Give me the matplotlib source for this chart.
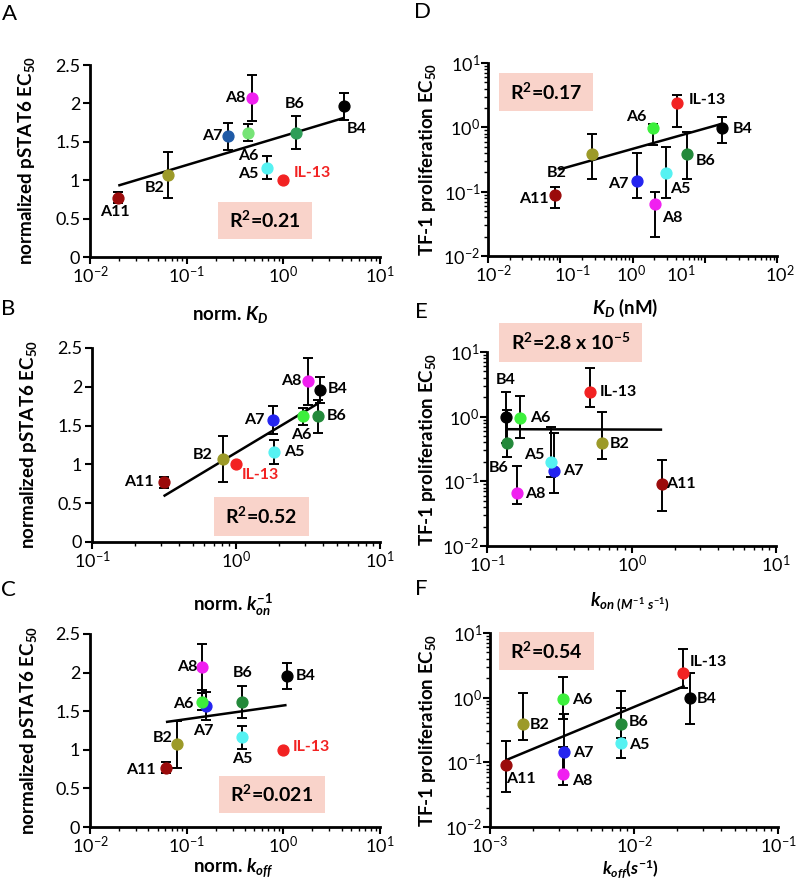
import math
import matplotlib
matplotlib.use('Agg')
import matplotlib.pyplot as plt
from matplotlib.patches import Rectangle
from matplotlib.ticker import NullFormatter

plt.rcParams['font.family'] = ['Lato', 'DejaVu Sans']
plt.rcParams['mathtext.fontset'] = 'custom'
plt.rcParams['mathtext.rm'] = 'Lato:bold'
plt.rcParams['mathtext.it'] = 'Lato:bold:italic'
plt.rcParams['mathtext.bf'] = 'Lato:bold'

# ---- data (order: A11, B2, A7, A6, A8, A5, IL-13, B6, B4) ----
names = ['A11', 'B2', 'A7', 'A6', 'A8', 'A5', 'IL-13', 'B6', 'B4']
colors = ['#9b0b0b', '#9c9a28', '#2424f0', '#3cf03c', '#f020f0', '#55f2f2', '#f22222', '#23893a', '#000000']
colors_A = ['#9b0b0b', '#9c9a28', '#1f5aa6', '#76e476', '#f020f0', '#55f2f2', '#f22222', '#2e9e58', '#000000']

# normalized pSTAT6 EC50 (+/- error)
pstat6 = [0.77, 1.07, 1.57, 1.62, 2.07, 1.16, 1.00, 1.62, 1.96]
pstat6_err = [0.07, 0.30, 0.18, 0.11, 0.30, 0.15, 0.0, 0.21, 0.17]

norm_kd = [0.0196, 0.0646, 0.27, 0.434, 0.478, 0.673, 1.0, 1.35, 4.28]
norm_kon_inv = [0.314, 0.81, 1.80, 2.94, 3.18, 1.85, 1.0, 3.73, 3.84]
norm_koff = [0.0607, 0.0788, 0.157, 0.145, 0.143, 0.377, 1.0, 0.377, 1.08]

# TF-1 proliferation EC50
tf1 = [0.090, 0.385, 0.146, 0.97, 0.065, 0.197, 2.38, 0.39, 0.98]
tf1_hi_D = [0.12, 0.78, 0.40, 1.12, 0.10, 0.50, 3.2, 0.86, 1.47]
tf1_lo_D = [0.055, 0.16, 0.081, 0.53, 0.02, 0.079, 1.0, 0.16, 0.57]
tf1_hi = [0.21, 1.16, 0.56, 2.06, 0.17, 0.69, 5.6, 1.29, 2.45]
tf1_lo = [0.035, 0.225, 0.067, 0.47, 0.045, 0.118, 1.4, 0.235, 0.39]

kd_nm = [0.084, 0.277, 1.17, 1.9, 2.05, 2.88, 4.19, 5.77, 17.6]
kon = [1.63, 0.627, 0.29, 0.17, 0.162, 0.279, 0.52, 0.138, 0.1353]
koff = [0.00129, 0.0017, 0.00326, 0.00323, 0.00323, 0.0081, 0.0219, 0.0081, 0.0244]

# regression lines (end points)
fit_A_x, fit_A_y = [0.0196, 4.2], [0.93, 1.81]
fit_B_x, fit_B_y = [0.314, 3.75], [0.59, 1.79]
fit_C_x, fit_C_y = [0.061, 1.08], [1.36, 1.58]
fit_D_x, fit_D_y = [0.095, 17.0], [0.22, 1.13]
fit_E_x, fit_E_y = [0.135, 1.63], [0.64, 0.63]
fit_F_x, fit_F_y = [0.00129, 0.0225], [0.108, 1.52]

r2_text = {
    'A': r'R$^{\mathdefault{2}}$=0.21',
    'B': r'R$^{\mathdefault{2}}$=0.52',
    'C': r'R$^{\mathdefault{2}}$=0.021',
    'D': r'R$^{\mathdefault{2}}$=0.17',
    'E': r'R$^{\mathdefault{2}}$=2.8 x 10$^{\mathdefault{-5}}$',
    'F': r'R$^{\mathdefault{2}}$=0.54',
}

# ---- layout ----
W, H = 800, 882
axes_px = {  # left, right, top, bottom in pixels
    'A': (90, 380, 65, 257), 'B': (92, 380, 348, 542), 'C': (90, 380, 634, 827),
    'D': (488, 777, 63, 256), 'E': (487, 776, 352, 546), 'F': (490, 778, 633, 827),
}
boxes = {  # axes fraction x0, y0, w, h
    'A': (0.441, 0.094, 0.325, 0.192), 'B': (0.424, 0.031, 0.329, 0.201),
    'C': (0.445, 0.073, 0.365, 0.191), 'D': (0.038, 0.751, 0.325, 0.197),
    'E': (0.042, 0.948, 0.494, 0.201), 'F': (0.031, 0.809, 0.330, 0.196),
}
label_off = {  # pixel offsets of the point labels (dx, dy up)
    'A': [(-3, -14), (-14, -13), (-16, 0), (0, -23), (-17, 0), (-18, -6), (29, 7), (-1, 29), (12, -23)],
    'B': [(-25, 0), (-20, 4), (-18, 0), (-2, -19), (-17, 0), (20, 0), (24, -11), (18, 0), (18, 1)],
    'C': [(-25, -2), (-14, 6), (-2, -25), (-19, -2), (-14, 0), (0, -22), (28, 3), (0, 29), (19, 0)],
    'D': [(-21, -4), (-36, -19), (-19, -3), (-16, 11), (17, -14), (15, -16), (30, 3), (18, -7), (20, -1)],
    'E': [(19, 0), (17, -1), (19, 0), (20, 0), (18, -1), (-17, 7), (28, 0), (-9, -25), (0, 37)],
    'F': [(15, -14), (17, -1), (19, -1), (19, -1), (19, -7), (18, -2), (25, 11), (18, 2), (17, -1)],
}
xlabel_pos = {'A': (0.483, -0.245), 'B': (0.49, -0.255), 'C': (0.493, -0.15),
              'D': (0.474, -0.21), 'E': (0.495, -0.23), 'F': (0.486, -0.158)}
xlabel_size = {'A': 13.5, 'B': 13.5, 'C': 13.5, 'D': 13.5, 'E': 13.5, 'F': 12.5}
ylabel_x = {'A': -0.183, 'B': -0.184, 'C': -0.176, 'D': -0.173, 'E': -0.17, 'F': -0.18}
letters = {'A': (9, 14), 'B': (8, 309), 'C': (8, 590), 'D': (422, 12), 'E': (421, 312), 'F': (421, 589)}

fig = plt.figure(figsize=(W / 100, H / 100), dpi=100)


def make_axes(key):
    l, r, t, b = axes_px[key]
    ax = fig.add_axes([l / W, (H - b) / H, (r - l) / W, (b - t) / H])
    ax.spines['top'].set_visible(False)
    ax.spines['right'].set_visible(False)
    ax.spines['left'].set_linewidth(2)
    ax.spines['bottom'].set_linewidth(2)
    ax.set_xscale('log')
    ax.tick_params(which='major', direction='out', length=5, width=1.5, labelsize=13)
    ax.tick_params(which='minor', direction='out', length=3, width=1.0)
    ax.tick_params(axis='x', pad=1)
    return ax


def finish(ax, key, xlabel, ylabel, fx, fy):
    ax.plot(fx, fy, color='k', lw=1.8, zorder=2.5, solid_capstyle='butt')
    x0, y0, w, h = boxes[key]
    ax.add_patch(Rectangle((x0, y0), w, h, transform=ax.transAxes, fc='#f9d3ca',
                           ec='none', zorder=1, clip_on=False))
    ax.text(x0 + w / 2, y0 + h / 2, r2_text[key], transform=ax.transAxes, ha='center',
            va='center', fontsize=14, fontweight='bold', zorder=4)
    ax.set_xlabel(xlabel, fontsize=xlabel_size[key], fontweight='bold')
    ax.set_ylabel(ylabel, fontsize=13.5, fontweight='bold')
    ax.xaxis.set_label_coords(*xlabel_pos[key])
    ax.yaxis.set_label_coords(ylabel_x[key], 0.5)
    lx, ly = letters[key]
    fig.text(lx / W, 1 - ly / H, key, fontsize=16, ha='center', va='center')


def pstat_panel(key, xs, xlim, xlabel, fx, fy, cols):
    ax = make_axes(key)
    ax.set_xlim(xlim)
    ax.set_ylim(0, 2.5)
    ax.set_yticks([0, 0.5, 1, 1.5, 2, 2.5])
    ax.set_yticklabels(['0', '0.5', '1', '1.5', '2', '2.5'])
    ax.tick_params(axis='y', pad=2)
    for i, n in enumerate(names):
        if pstat6_err[i] > 0:
            ax.errorbar(xs[i], pstat6[i], yerr=pstat6_err[i], fmt='none', ecolor='k',
                        elinewidth=1.4, capsize=3.5, capthick=1.4, zorder=2)
        ax.plot(xs[i], pstat6[i], 'o', color=cols[i], ms=7.8, zorder=3, clip_on=False)
        dx, dy = label_off[key][i]
        ax.annotate(n, (xs[i], pstat6[i]), xytext=(dx, dy), textcoords='offset pixels',
                    ha='center', va='center', fontsize=11.5, fontweight='bold',
                    color='#f22222' if n == 'IL-13' else 'k', zorder=4)
    finish(ax, key, xlabel, r'normalized pSTAT6 EC$_{\mathdefault{50}}$', fx, fy)
    return ax


def tf1_panel(key, xs, xlim, xlabel, fx, fy, hi, lo):
    ax = make_axes(key)
    ax.set_yscale('log')
    ax.set_xlim(xlim)
    ax.set_ylim(1e-2, 1e1)
    ax.tick_params(axis='y', pad=0.5)
    for i, n in enumerate(names):
        ax.errorbar(xs[i], tf1[i], yerr=[[tf1[i] - lo[i]], [hi[i] - tf1[i]]], fmt='none',
                    ecolor='k', elinewidth=1.4, capsize=3.5, capthick=1.4, zorder=2)
        ax.plot(xs[i], tf1[i], 'o', color=colors[i], ms=7.8, zorder=3, clip_on=False)
        dx, dy = label_off[key][i]
        ax.annotate(n, (xs[i], tf1[i]), xytext=(dx, dy), textcoords='offset pixels',
                    ha='center', va='center', fontsize=11.5, fontweight='bold', zorder=4)
    finish(ax, key, xlabel, r'TF-1 proliferation EC$_{\mathdefault{50}}$', fx, fy)
    return ax


pstat_panel('A', norm_kd, (1e-2, 1e1), r'norm. $K_D$', fit_A_x, fit_A_y, colors_A)
pstat_panel('B', norm_kon_inv, (1e-1, 1e1), r'norm. $k_{on}^{-1}$', fit_B_x, fit_B_y, colors)
pstat_panel('C', norm_koff, (1e-2, 1e1), r'norm. $k_{off}$', fit_C_x, fit_C_y, colors)

axD = tf1_panel('D', kd_nm, (1e-2, 1e2), r'$K_D$ (nM)', fit_D_x, fit_D_y, tf1_hi_D, tf1_lo_D)
tf1_panel('E', kon, (1e-1, 1e1), r'$k_{on\ (M^{-1}\ s^{-1})}$', fit_E_x, fit_E_y, tf1_hi, tf1_lo)
tf1_panel('F', koff, (1e-3, 1e-1), r'$k_{off}(s^{-1})$', fit_F_x, fit_F_y, tf1_hi, tf1_lo)

# panel D: decade labels sit slightly off their ticks in the original
axD.xaxis.set_major_formatter(NullFormatter())
d_ticks = [1e-2, 1e-1, 1e0, 1e1, 1e2]
d_shift = [5, 12, -2, -24, 3]
for t, s in zip(d_ticks, d_shift):
    e = int(round(math.log10(t)))
    axD.annotate(r'$\mathdefault{10^{%d}}$' % e, (t, 0), xycoords=axD.get_xaxis_transform(),
                 xytext=(s, -8), textcoords='offset pixels', ha='center', va='top',
                 fontsize=13, annotation_clip=False)

fig.savefig('out.png', dpi=100)
